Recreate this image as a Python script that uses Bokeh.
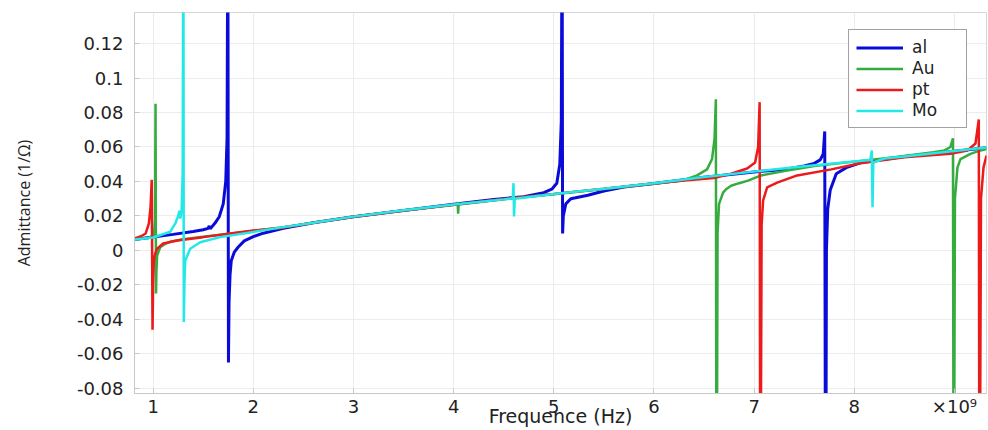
from bokeh.plotting import figure
from bokeh.models import Range1d, FixedTicker, PrintfTickFormatter
from bokeh.embed import file_html
from bokeh.resources import INLINE

# Frequency in GHz (axis shows the x10^9 multiplier), admittance in 1/Ohm
freq_al = [0.814, 1.0, 1.2, 1.4, 1.5, 1.55, 1.56, 1.57, 1.62, 1.66, 1.70, 1.725, 1.738,
           1.746, 1.752, 1.758, 1.768, 1.78, 1.81, 1.85, 1.91, 2.0, 2.1, 2.3, 2.6, 3.0,
           3.5, 4.0, 4.4, 4.7, 4.9, 4.98, 5.03, 5.06, 5.075, 5.083, 5.088, 5.095, 5.12,
           5.17, 5.34, 5.5, 5.7, 6.0, 6.5, 7.0, 7.3, 7.5, 7.6, 7.66, 7.69, 7.705, 7.714,
           7.722, 7.735, 7.76, 7.82, 7.92, 8.06, 8.5, 9.0, 9.32]
adm_al = [0.0063, 0.0078, 0.0093, 0.0110, 0.0120, 0.0128, 0.0142, 0.0125, 0.0160, 0.0195,
          0.0270, 0.040, 0.065, 0.2, -0.065, -0.030, -0.014, -0.006, -0.001, 0.002, 0.0055,
          0.0080, 0.0100, 0.0128, 0.0160, 0.0195, 0.0232, 0.0268, 0.0296, 0.0312, 0.0335,
          0.0355, 0.039, 0.050, 0.075, 0.2, 0.0098, 0.020, 0.027, 0.030, 0.032, 0.0345,
          0.0368, 0.0388, 0.0425, 0.0455, 0.0470, 0.0490, 0.0505, 0.0525, 0.056, 0.069,
          -0.2, 0.0, 0.024, 0.035, 0.0445, 0.048, 0.0508, 0.0545, 0.0575, 0.0595]

freq_au = [0.814, 0.95, 1.0, 1.012, 1.019, 1.024, 1.029, 1.033, 1.04, 1.07, 1.12, 1.17,
           1.3, 1.5, 1.8, 2.0, 2.3, 2.6, 3.0, 3.5, 4.0, 4.035, 4.04, 4.045, 4.05, 4.5,
           5.0, 5.5, 6.0, 6.28, 6.43, 6.53, 6.58, 6.605, 6.618, 6.625, 6.635, 6.65, 6.69,
           6.72, 6.77, 6.85, 6.94, 7.07, 7.3, 7.6, 8.0, 8.4, 8.79, 8.9, 8.96, 8.985, 8.993,
           9.005, 9.03, 9.06, 9.16, 9.26, 9.32]
adm_au = [0.0063, 0.0072, 0.0085, 0.0115, 0.018, 0.085, -0.025, -0.012, -0.003, 0.0018,
          0.0038, 0.0050, 0.0065, 0.0080, 0.0100, 0.0113, 0.0135, 0.0160, 0.0195, 0.0232,
          0.0264, 0.0268, 0.028, 0.0213, 0.0266, 0.0297, 0.0326, 0.0356, 0.0387, 0.0405,
          0.0435, 0.047, 0.053, 0.065, 0.0877, -0.2, 0.010, 0.027, 0.0335, 0.0355, 0.0375,
          0.0390, 0.0405, 0.0435, 0.0460, 0.0490, 0.0515, 0.0540, 0.0570, 0.0580, 0.060,
          0.065, -0.2, 0.030, 0.048, 0.053, 0.056, 0.058, 0.0588]

freq_pt = [0.814, 0.88, 0.925, 0.957, 0.974, 0.986, 0.994, 1.0, 1.007, 1.02, 1.04, 1.1,
           1.24, 1.5, 1.77, 2.0, 2.27, 2.6, 3.0, 3.5, 4.0, 4.5, 5.0, 5.5, 6.0, 6.3, 6.6,
           6.77, 6.93, 7.01, 7.04, 7.055, 7.062, 7.075, 7.09, 7.13, 7.23, 7.43, 7.77,
           8.06, 8.5, 8.96, 9.13, 9.21, 9.243, 9.25, 9.265, 9.29, 9.32]
adm_pt = [0.0070, 0.0082, 0.0098, 0.0155, 0.025, 0.041, -0.046, -0.020, -0.006, -0.002,
          0.001, 0.004, 0.0058, 0.0077, 0.0098, 0.0115, 0.0130, 0.0160, 0.0195, 0.0232,
          0.0265, 0.0298, 0.0327, 0.0357, 0.0388, 0.0405, 0.0420, 0.0445, 0.0475, 0.051,
          0.060, 0.086, -0.2, 0.015, 0.029, 0.0365, 0.0393, 0.0435, 0.0470, 0.0505, 0.0540,
          0.0560, 0.0580, 0.062, 0.076, -0.2, 0.030, 0.048, 0.055]

freq_mo = [0.814, 1.0, 1.12, 1.17, 1.22, 1.25, 1.262, 1.272, 1.285, 1.295, 1.302, 1.306,
           1.312, 1.32, 1.37, 1.47, 1.67, 2.0, 2.3, 2.6, 3.0, 3.5, 4.0, 4.5, 4.59, 4.598,
           4.603, 4.61, 5.0, 5.5, 6.0, 6.5, 7.0, 7.5, 8.0, 8.16, 8.175, 8.182, 8.19, 8.3,
           8.5, 9.0, 9.32]
adm_mo = [0.0063, 0.0075, 0.0098, 0.0108, 0.0155, 0.020, 0.023, 0.0185, 0.024, 0.045, 0.2,
          -0.0415, -0.020, -0.006, 0.001, 0.0047, 0.0077, 0.0107, 0.0135, 0.0160, 0.0196,
          0.0233, 0.0266, 0.0296, 0.0302, 0.039, 0.0197, 0.0300, 0.0327, 0.0358, 0.0390,
          0.0426, 0.0457, 0.0488, 0.0516, 0.0525, 0.058, 0.025, 0.051, 0.0533, 0.0545,
          0.0577, 0.0597]

x_ticks = [1, 2, 3, 4, 5, 6, 7, 8, 9]
y_ticks = [-0.08, -0.06, -0.04, -0.02, 0, 0.02, 0.04, 0.06, 0.08, 0.1, 0.12]

p = figure(width=988, height=430, output_backend="svg", toolbar_location=None,
           x_range=Range1d(0.814, 9.32), y_range=Range1d(-0.083, 0.138),
           min_border_left=134, min_border_right=2, min_border_top=12,
           min_border_bottom=37)
p.background_fill_color = "white"
p.border_fill_color = "white"
p.outline_line_color = "#d6d6d6"

p.grid.grid_line_color = "#ececec"
p.grid.grid_line_width = 1

tick_font = "DejaVu Sans"
p.xaxis.ticker = FixedTicker(ticks=x_ticks)
p.xaxis.major_label_overrides = {9: "×10⁹"}
p.yaxis.ticker = FixedTicker(ticks=y_ticks)
p.yaxis.formatter = PrintfTickFormatter(format="%g")
for ax in (p.xaxis, p.yaxis):
    ax.axis_line_color = "#c8c8c8"
    ax.major_tick_line_color = "#c8c8c8"
    ax.major_tick_in = 5
    ax.major_tick_out = 0
    ax.minor_tick_line_color = None
    ax.major_label_text_font = tick_font
    ax.major_label_text_font_size = "18px"
    ax.major_label_text_color = "#222222"
    ax.axis_label_text_font_style = "normal"
    ax.axis_label_text_color = "#222222"

# x-axis title tucked up against the tick labels
p.xaxis.major_label_standoff = 2
p.xaxis.axis_label = "Frequence (Hz)"
p.xaxis.axis_label_text_font = "DejaVu Sans"
p.xaxis.axis_label_text_font_size = "19px"
p.xaxis.axis_label_standoff = -15

p.yaxis.major_label_standoff = 11
p.yaxis.axis_label = "Admittance (1/Ω)"
p.yaxis.axis_label_text_font = "Open Sans"
p.yaxis.axis_label_text_font_size = "16px"
p.yaxis.axis_label_standoff = 39

p.line(freq_al, adm_al, line_color="#0b0bd9", line_width=3, legend_label="al")
p.line(freq_au, adm_au, line_color="#36ab3e", line_width=2.5, legend_label="Au")
p.line(freq_pt, adm_pt, line_color="#ec1a1a", line_width=2.5, legend_label="pt")
p.line(freq_mo, adm_mo, line_color="#22e8e8", line_width=2.5, legend_label="Mo")

lg = p.legend[0]
lg.location = (714, 265)
lg.border_line_color = "#444444"
lg.border_line_width = 1
lg.background_fill_color = "white"
lg.background_fill_alpha = 1
lg.padding = 7
lg.margin = 0
lg.spacing = 1
lg.glyph_width = 47
lg.glyph_height = 19
lg.label_height = 19
lg.label_width = 47
lg.label_standoff = 9
lg.label_text_font = "DejaVu Sans"
lg.label_text_font_size = "17px"
lg.label_text_color = "#222222"

open("out.html", "w").write(file_html(p, INLINE))
